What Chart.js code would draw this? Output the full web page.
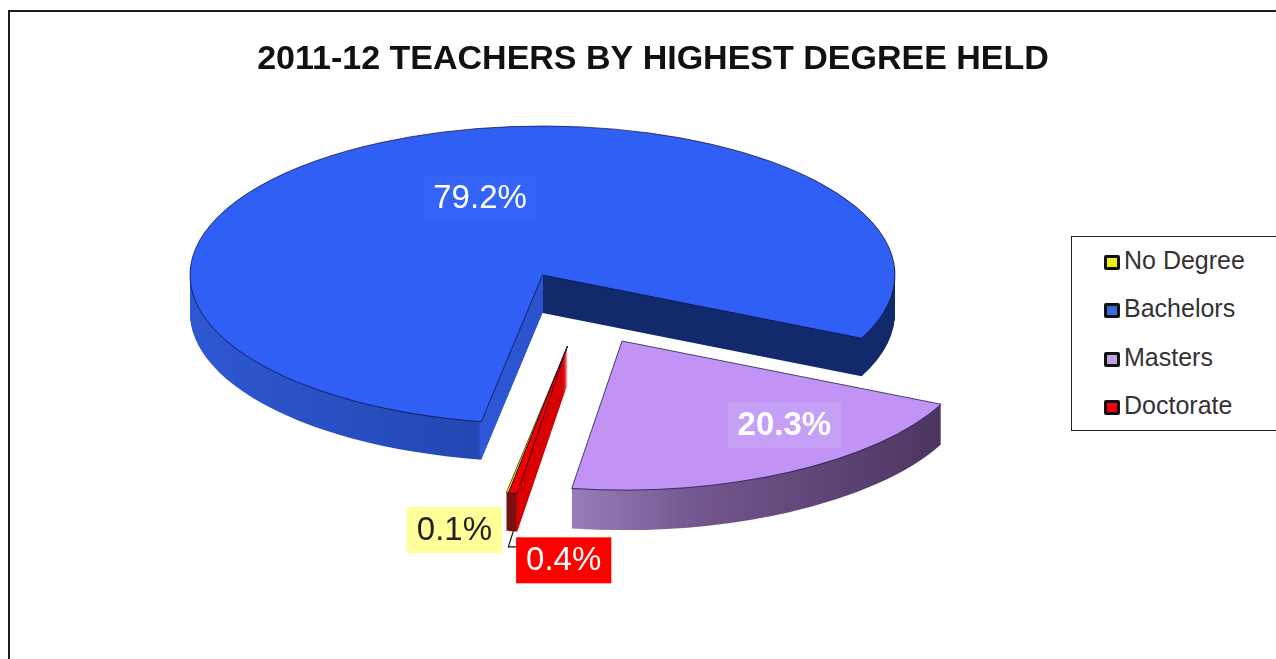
<!DOCTYPE html>
<html lang="en">

<head>
   <meta charset="UTF-8">
   <title>2011-12 Teachers by Highest Degree Held</title>
   <style>
      html, body { margin: 0; height: 100%; overflow: hidden; background: #fff; }
      #frame { position: absolute; left: 8px; top: 10px; width: 1300px; height: 700px; border: 2px solid #1c1c1c; }
      #wrap { position: absolute; left: 0; top: 0; width: 1276px; height: 659px; }
      #legend { position: absolute; left: 1071px; top: 236px; width: 230px; height: 193px; border: 1.5px solid #222; background: #fff;
         font: 25px "Liberation Sans", Arial, sans-serif; color: #333; }
      #legend div { position: absolute; left: 32px; height: 30px; line-height: 30px; white-space: nowrap; }
      #legend i { display: inline-block; box-sizing: border-box; width: 16px; height: 15px; border: 3px solid #111; border-radius: 2px; margin-right: 4px; vertical-align: -1px; }
   </style>
</head>

<body>
   <div id="frame"></div>
   <div id="wrap"><canvas id="myChart" width="1276" height="659"></canvas></div>
   <div id="legend"></div>

   <script src="https://cdn.jsdelivr.net/npm/chart.js"></script>

   <script>
      const titleText = '2011-12 TEACHERS BY HIGHEST DEGREE HELD';
      const degrees = ['No Degree', 'Bachelors', 'Masters', 'Doctorate'];
      const shares = [0.1, 79.2, 20.3, 0.4];
      const shareLabels = ['0.1%', '79.2%', '20.3%', '0.4%'];
      const topColors = ['#ffff00', '#2f5ff4', '#c093f5', '#f00000'];
      const legendColors = ['#f2ee1c', '#3f66dc', '#bfa2e4', '#f00010'];

      // rim shading, stops run left to right across the whole pie
      const rimStops = [
         [[0, '#7a0f0f'], [1, '#7a0f0f']],
         [[0, '#2e58d2'], [0.41, '#2348b2'], [0.412, '#2d58d8'], [0.5, '#2a52cc'], [0.5005, '#12296c'], [1, '#12296c']],
         [[0.427, '#9a7cba'], [0.6, '#75578f'], [0.956, '#4c3460']],
         [[0.427, '#7a0f0f'], [0.428, '#d80000'], [1, '#d80000']]
      ];

      // how far each slice is pulled out, and where its label sits
      const pullX = [25, 0, 79.5, 25];
      const pullY = [71, 0, 66, 71];
      const rimDepth = [38, 38, 40, 38];
      const labelNudgeX = [-77, 35, 62, 29];
      const labelNudgeY = [96, 2, 5.5, 126];
      const labelFill = ['#ffff99', '#3363f7', '#c69ff7', '#ff0000'];
      const labelText = ['#222222', '#ffffff', '#ffffff', '#ffffff'];
      const labelBold = [false, false, true, false];

      const pieX = 542.5, pieY = 275, pieR = 352.5, tilt = 0.4227;
      const labelFont = '"Liberation Sans", Arial, sans-serif';

      function paintArc(arc, ctx, fill, line) {
         const o = arc.options;
         const keep = [o.backgroundColor, o.borderColor, o.borderWidth];
         o.backgroundColor = fill;
         o.borderColor = line || fill;
         o.borderWidth = line ? 1 : 0;
         arc.draw(ctx);
         [o.backgroundColor, o.borderColor, o.borderWidth] = keep;
      }

      const tiltedPie = {
         id: 'tiltedPie',
         beforeDatasetsDraw(chart) {
            const ctx = chart.ctx;
            const arcs = chart.getDatasetMeta(0).data;
            [1, 2, 0, 3].forEach(function (i) {
               const arc = arcs[i];
               const grad = ctx.createLinearGradient(arc.x - pieR, 0, arc.x + pieR, 0);
               rimStops[i].forEach(function (s) { grad.addColorStop(s[0], s[1]); });
               for (let d = rimDepth[i]; d >= 0; d--) {
                  ctx.save();
                  ctx.translate(pieX + pullX[i], pieY + pullY[i] + d);
                  ctx.scale(1, tilt);
                  ctx.translate(-arc.x, -arc.y);
                  if (d > 0) paintArc(arc, ctx, grad);
                  else paintArc(arc, ctx, topColors[i], i === 0 ? '#200' : '#0a0a3a');
                  ctx.restore();
               }
            });
            return false;
         },
         afterDraw(chart) {
            const ctx = chart.ctx;
            const arcs = chart.getDatasetMeta(0).data;

            // leader line under the two small slices
            const mid = (arcs[0].startAngle + arcs[0].endAngle) / 2;
            const tx = pieX + pullX[0] + Math.cos(mid) * pieR;
            const ty = pieY + pullY[0] + Math.sin(mid) * pieR * tilt + rimDepth[0];
            ctx.strokeStyle = '#111';
            ctx.lineWidth = 1.2;
            ctx.beginPath();
            ctx.moveTo(tx + 6, ty);
            ctx.lineTo(tx + 1, ty + 16);
            ctx.lineTo(tx + 14, ty + 16);
            ctx.stroke();

            arcs.forEach(function (arc, i) {
               const a = (arc.startAngle + arc.endAngle) / 2;
               const x = pieX + pullX[i] + Math.cos(a) * pieR * 0.6 + labelNudgeX[i];
               const y = pieY + pullY[i] + Math.sin(a) * pieR * 0.6 * tilt + labelNudgeY[i];
               ctx.font = (labelBold[i] ? 'bold ' : '') + '33px ' + labelFont;
               const w = ctx.measureText(shareLabels[i]).width + 20;
               ctx.fillStyle = labelFill[i];
               ctx.fillRect(x - w / 2, y - 23, w, 46);
               ctx.fillStyle = labelText[i];
               ctx.textAlign = 'center';
               ctx.textBaseline = 'middle';
               ctx.fillText(shareLabels[i], x, y + 1);
            });
         }
      };

      new Chart(document.getElementById('myChart'), {
         type: 'pie',
         plugins: [tiltedPie],
         data: {
            labels: degrees,
            datasets: [{
               data: shares,
               backgroundColor: topColors,
               borderWidth: 0
            }]
         },
         options: {
            responsive: false,
            animation: false,
            events: [],
            rotation: 189.64,
            radius: pieR,
            layout: { padding: { left: 30 } },
            plugins: {
               legend: { display: false },
               tooltip: { enabled: false },
               title: {
                  display: true,
                  text: titleText,
                  fullSize: false,
                  color: '#111',
                  font: { family: labelFont, size: 34, weight: 'bold' },
                  padding: { top: 39, bottom: 10 }
               }
            }
         }
      });

      const legendBox = document.getElementById('legend');
      degrees.forEach(function (name, i) {
         const row = document.createElement('div');
         row.style.top = (8 + i * 48.3) + 'px';
         const swatch = document.createElement('i');
         swatch.style.background = legendColors[i];
         row.appendChild(swatch);
         row.appendChild(document.createTextNode(name));
         legendBox.appendChild(row);
      });
   </script>
</body>

</html>
